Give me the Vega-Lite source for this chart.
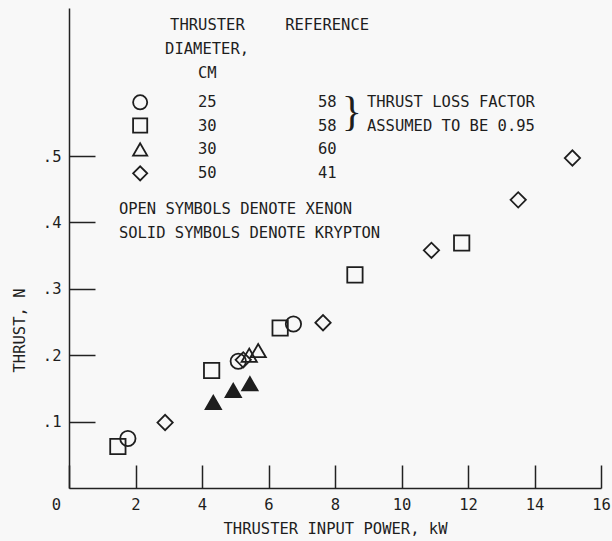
{
  "$schema": "https://vega.github.io/schema/vega-lite/v6.json",
  "width": 532,
  "height": 480,
  "autosize": {"type": "none"},
  "padding": {"left": 69, "top": 8, "right": 11, "bottom": 53},
  "background": "#f8f8f8",
  "config": {"view": {"stroke": null}, "font": "DejaVu Sans Mono"},
  "datasets": {
    "points": [
      {"x": 1.77, "y": 0.0745, "series": "25 cm, ref 58", "gas": "xenon"},
      {"x": 5.09, "y": 0.191, "series": "25 cm, ref 58", "gas": "xenon"},
      {"x": 6.75, "y": 0.247, "series": "25 cm, ref 58", "gas": "xenon"},
      {"x": 1.47, "y": 0.0625, "series": "30 cm, ref 58", "gas": "xenon"},
      {"x": 4.29, "y": 0.177, "series": "30 cm, ref 58", "gas": "xenon"},
      {"x": 6.35, "y": 0.241, "series": "30 cm, ref 58", "gas": "xenon"},
      {"x": 8.6, "y": 0.321, "series": "30 cm, ref 58", "gas": "xenon"},
      {"x": 11.81, "y": 0.369, "series": "30 cm, ref 58", "gas": "xenon"},
      {"x": 5.42, "y": 0.2, "series": "30 cm, ref 60", "gas": "xenon"},
      {"x": 5.69, "y": 0.207, "series": "30 cm, ref 60", "gas": "xenon"},
      {"x": 4.34, "y": 0.129, "series": "30 cm, ref 60", "gas": "krypton"},
      {"x": 4.94, "y": 0.147, "series": "30 cm, ref 60", "gas": "krypton"},
      {"x": 5.44, "y": 0.157, "series": "30 cm, ref 60", "gas": "krypton"},
      {"x": 2.89, "y": 0.0986, "series": "50 cm, ref 41", "gas": "xenon"},
      {"x": 5.24, "y": 0.193, "series": "50 cm, ref 41", "gas": "xenon"},
      {"x": 7.64, "y": 0.249, "series": "50 cm, ref 41", "gas": "xenon"},
      {"x": 10.9, "y": 0.358, "series": "50 cm, ref 41", "gas": "xenon"},
      {"x": 13.51, "y": 0.434, "series": "50 cm, ref 41", "gas": "xenon"},
      {"x": 15.14, "y": 0.497, "series": "50 cm, ref 41", "gas": "xenon"}
    ],
    "legendsym": [
      {"x": 2.14, "y": 0.581, "series": "25 cm, ref 58", "gas": "xenon"},
      {"x": 2.14, "y": 0.546, "series": "30 cm, ref 58", "gas": "xenon"},
      {"x": 2.14, "y": 0.51, "series": "30 cm, ref 60", "gas": "xenon"},
      {"x": 2.14, "y": 0.474, "series": "50 cm, ref 41", "gas": "xenon"}
    ],
    "labels": [
      {"x": 3.04, "y": 0.698, "t": "THRUSTER"},
      {"x": 6.5, "y": 0.698, "t": "REFERENCE"},
      {"x": 2.89, "y": 0.661, "t": "DIAMETER,"},
      {"x": 3.88, "y": 0.625, "t": "CM"},
      {"x": 3.88, "y": 0.581, "t": "25"},
      {"x": 7.49, "y": 0.581, "t": "58"},
      {"x": 8.96, "y": 0.581, "t": "THRUST LOSS FACTOR"},
      {"x": 3.88, "y": 0.546, "t": "30"},
      {"x": 7.49, "y": 0.546, "t": "58"},
      {"x": 8.96, "y": 0.546, "t": "ASSUMED TO BE 0.95"},
      {"x": 3.88, "y": 0.51, "t": "30"},
      {"x": 7.49, "y": 0.51, "t": "60"},
      {"x": 3.88, "y": 0.474, "t": "50"},
      {"x": 7.49, "y": 0.474, "t": "41"},
      {"x": 1.5, "y": 0.42, "t": "OPEN SYMBOLS DENOTE XENON"},
      {"x": 1.5, "y": 0.384, "t": "SOLID SYMBOLS DENOTE KRYPTON"}
    ],
    "brace": [
      {"x": 8.2, "y": 0.566, "t": "}"}
    ]
  },
  "layer": [
    {
      "data": {"name": "points"},
      "mark": {"type": "point", "filled": true, "stroke": "#1e1e1e", "strokeWidth": 1.8, "size": 235, "opacity": 1},
      "encoding": {
        "x": {
          "field": "x", "type": "quantitative",
          "scale": {"domain": [0, 16], "nice": false, "zero": false},
          "axis": {
            "title": "THRUSTER INPUT POWER, kW",
            "values": [0, 2, 4, 6, 8, 10, 12, 14, 16],
            "grid": false,
            "tickSize": -23,
            "tickWidth": 1.5,
            "tickColor": "#222",
            "domainColor": "#222",
            "domainWidth": 1.5,
            "labelPadding": 32,
            "labelFlush": false,
            "labelOverlap": false,
            "labelFont": "DejaVu Sans Mono",
            "labelFontSize": 15.5,
            "labelColor": "#1e1e1e",
            "labelOffset": {"condition": {"test": "datum.value === 0", "value": -13}, "value": 0},
            "titleFont": "DejaVu Sans Mono",
            "titleFontSize": 15.5,
            "titleFontWeight": "normal",
            "titleColor": "#1e1e1e",
            "titleX": 266,
            "titleY": 40,
            "titleBaseline": "middle",
            "titleAlign": "center"
          }
        },
        "y": {
          "field": "y", "type": "quantitative",
          "scale": {"domain": [0, 0.723], "nice": false, "zero": false},
          "axis": {
            "title": "THRUST, N",
            "values": [0.1, 0.2, 0.3, 0.4, 0.5],
            "labelExpr": "replace(format(datum.value, '.1f'), '0.', '.')",
            "grid": false,
            "tickSize": -26,
            "tickWidth": 1.5,
            "tickColor": "#222",
            "domainColor": "#222",
            "domainWidth": 1.5,
            "labelPadding": 34,
            "labelFlush": false,
            "labelOverlap": false,
            "labelFont": "DejaVu Sans Mono",
            "labelFontSize": 15.5,
            "labelColor": "#1e1e1e",
            "titleFont": "DejaVu Sans Mono",
            "titleFontSize": 15.5,
            "titleFontWeight": "normal",
            "titleColor": "#1e1e1e",
            "titleAngle": -90,
            "titleX": -50,
            "titleY": 322,
            "titleBaseline": "middle",
            "titleAlign": "center"
          }
        },
        "shape": {
          "field": "series", "type": "nominal",
          "scale": {"domain": ["25 cm, ref 58", "30 cm, ref 58", "30 cm, ref 60", "50 cm, ref 41"], "range": ["circle", "square", "triangle-up", "diamond"]},
          "legend": null
        },
        "fill": {
          "field": "gas", "type": "nominal",
          "scale": {"domain": ["xenon", "krypton"], "range": ["transparent", "#1e1e1e"]},
          "legend": null
        }
      }
    },
    {
      "data": {"name": "legendsym"},
      "mark": {"type": "point", "filled": false, "stroke": "#1e1e1e", "strokeWidth": 1.8, "size": 200, "opacity": 1},
      "encoding": {
        "x": {"field": "x", "type": "quantitative"},
        "y": {"field": "y", "type": "quantitative"},
        "shape": {"field": "series", "type": "nominal", "legend": null}
      }
    },
    {
      "data": {"name": "labels"},
      "mark": {"type": "text", "align": "left", "baseline": "middle", "font": "DejaVu Sans Mono", "fontSize": 15.5, "color": "#1e1e1e"},
      "encoding": {
        "x": {"field": "x", "type": "quantitative"},
        "y": {"field": "y", "type": "quantitative"},
        "text": {"field": "t"}
      }
    },
    {
      "data": {"name": "brace"},
      "mark": {"type": "text", "align": "left", "baseline": "middle", "font": "Liberation Serif", "fontSize": 42, "color": "#1e1e1e"},
      "encoding": {
        "x": {"field": "x", "type": "quantitative"},
        "y": {"field": "y", "type": "quantitative"},
        "text": {"field": "t"}
      }
    }
  ]
}
